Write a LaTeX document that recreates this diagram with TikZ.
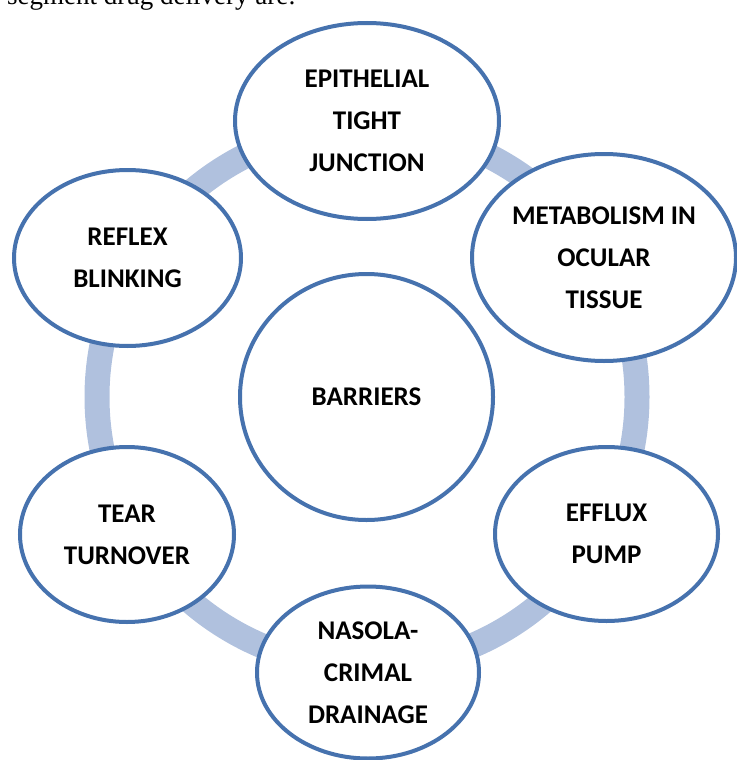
\documentclass[tikz,border=0pt]{standalone}
\usepackage{fontspec}
\setmainfont{Carlito}
\newfontfamily\bodyserif{Liberation Serif}
\usetikzlibrary{shapes.geometric}
\definecolor{ringblue}{HTML}{B0C1DE}
\definecolor{edgeblue}{HTML}{4672AE}
\tikzset{
  barrier/.style={ellipse, draw=edgeblue, line width=4pt, fill=white,
    inner sep=0pt, align=center, text=black,
    font=\fontsize{27}{42}\selectfont\bfseries},
  ring/.style={draw=ringblue, line width=25pt}
}
\begin{document}
\begin{tikzpicture}[x=1pt,y=-1pt]
  \useasboundingbox (0,0) rectangle (736,760);
  % tail of the preceding paragraph line
  \node[anchor=base west, inner sep=0pt, font=\bodyserif\fontsize{27}{32}\selectfont] (caption) at (7,5) {segment drug delivery are:};
  % connecting ring behind the bubbles
  \coordinate (hub) at (367,397);
  \draw[ring] (hub) circle[radius=270];
  % central bubble
  \node[barrier, minimum width=253pt, minimum height=246pt] (barriers) at (366.5,397) {BARRIERS};
  % surrounding bubbles
  \node[barrier, minimum width=264pt, minimum height=196pt] (epi) at (367,121) {EPITHELIAL\\TIGHT\\JUNCTION};
  \node[barrier, minimum width=264pt, minimum height=207pt] (meta) at (604,257.5) {METABOLISM IN\\OCULAR\\TISSUE};
  \node[barrier, minimum width=223pt, minimum height=174pt] (efflux) at (606.5,534) {EFFLUX\\PUMP};
  \node[barrier, minimum width=222pt, minimum height=172pt] (naso) at (368,672.5) {NASOLA-\\CRIMAL\\DRAINAGE};
  \node[barrier, minimum width=214pt, minimum height=175pt] (tear) at (127,534.5) {TEAR\\TURNOVER};
  \node[barrier, minimum width=227pt, minimum height=176pt] (reflex) at (127.5,258) {REFLEX\\BLINKING};
\end{tikzpicture}
\end{document}
